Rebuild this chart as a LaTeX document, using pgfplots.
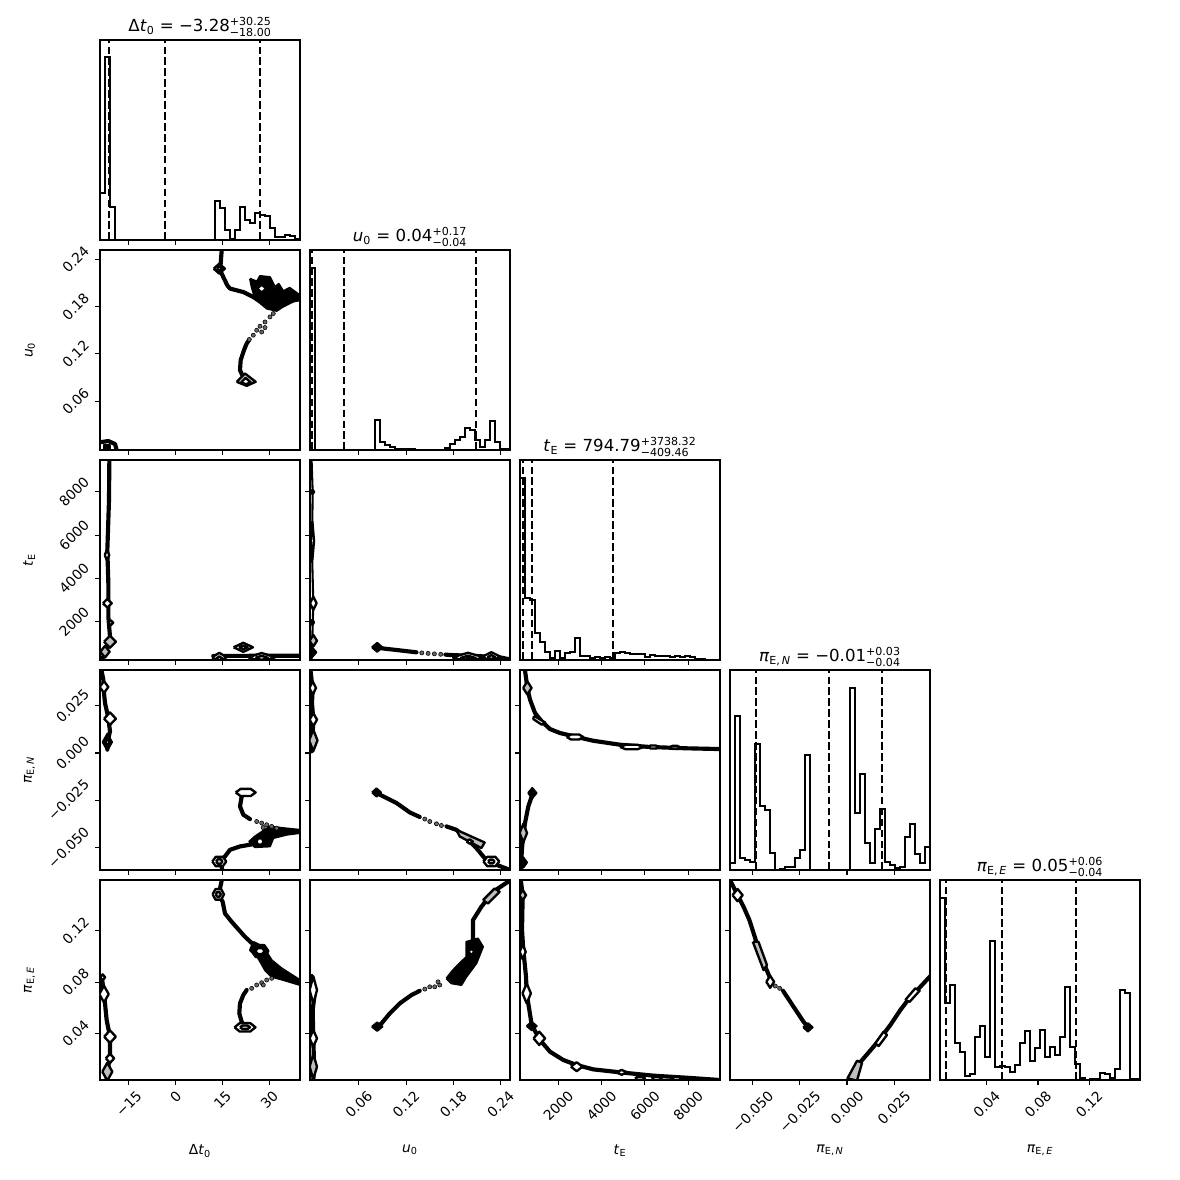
\documentclass[border=0pt]{standalone}
\usepackage{fontspec}
\setmainfont{DejaVu Sans}
\usepackage{amsmath}
\usepackage{graphicx}
\usepackage{pgfplots}
\pgfplotsset{compat=1.18}

\newcommand{\rl}[1]{\rotatebox{45}{#1}}
\newcommand{\err}[2]{$^{\text{#1}}_{\text{#2}}$}

\pgfplotsset{
  corner/.style={width=2in, height=2in, scale only axis, anchor=north west,
    axis line style={line width=0.8pt}, tick style={black, line width=0.8pt},
    tick align=outside, major tick length=3.5pt,
    xtick pos=left, ytick pos=left, scaled ticks=false,
    tick label style={font=\fontsize{10}{12}\selectfont},
    label style={font=\fontsize{10}{12}\selectfont},
    every axis x label/.style={at={(axis description cs:0.5,-0.3)}, anchor=north},
    every axis y label/.style={at={(axis description cs:-0.3,0.5)}, rotate=90, anchor=south},
    every axis title/.style={font=\fontsize{12}{14}\selectfont, at={(0.5,1)}, anchor=base, yshift=6pt},
    xticklabels={}, yticklabels={}},
  hist/.style={ymin=0, ymax=200, ytick=\empty},
  dtx/.style={xmin=-24.2, xmax=39.8, xtick={-15,0,15,30}},
  u0x/.style={xmin=-0.002, xmax=0.252, xtick={0.06,0.12,0.18,0.24}},
  tex/.style={xmin=230, xmax=9470, xtick={2000,4000,6000,8000}},
  pnx/.style={xmin=-0.062, xmax=0.044, xtick={-0.05,-0.025,0,0.025}},
  pex/.style={xmin=0.0036, xmax=0.1596, xtick={0.04,0.08,0.12}},
  u0y/.style={ymin=-0.002, ymax=0.252, ytick={0.06,0.12,0.18,0.24}},
  tey/.style={ymin=230, ymax=9470, ytick={2000,4000,6000,8000}},
  pny/.style={ymin=-0.062, ymax=0.044, ytick={-0.05,-0.025,0,0.025}},
  pey/.style={ymin=0.0036, ymax=0.1596, ytick={0.04,0.08,0.12}},
  dtxl/.style={xticklabels={\rl{−15},\rl{0},\rl{15},\rl{30}}, xlabel={Δ\textit{t}\textsubscript{0}}},
  u0xl/.style={xticklabels={\rl{0.06},\rl{0.12},\rl{0.18},\rl{0.24}}, xlabel={\textit{u}\textsubscript{0}}},
  texl/.style={xticklabels={\rl{2000},\rl{4000},\rl{6000},\rl{8000}}, xlabel={\textit{t}\textsubscript{E}}},
  pnxl/.style={xticklabels={\rl{−0.050},\rl{−0.025},\rl{0.000},\rl{0.025}}, xlabel={\textit{π}\textsubscript{E,\,\textit{N}}}},
  pexl/.style={xticklabels={\rl{0.04},\rl{0.08},\rl{0.12}}, xlabel={\textit{π}\textsubscript{E,\,\textit{E}}}},
  u0yl/.style={yticklabels={\rl{0.06},\rl{0.12},\rl{0.18},\rl{0.24}}, ylabel={\textit{u}\textsubscript{0}}},
  teyl/.style={yticklabels={\rl{2000},\rl{4000},\rl{6000},\rl{8000}}, ylabel={\textit{t}\textsubscript{E}}},
  pnyl/.style={yticklabels={\rl{−0.050},\rl{−0.025},\rl{0.000},\rl{0.025}}, ylabel={\textit{π}\textsubscript{E,\,\textit{N}}}},
  peyl/.style={yticklabels={\rl{0.04},\rl{0.08},\rl{0.12}}, ylabel={\textit{π}\textsubscript{E,\,\textit{E}}}},
  hs/.style={black, line width=1.2pt, const plot, line join=miter},
  ql/.style={black, line width=1.5pt, dash pattern=on 5.5pt off 2.4pt},
  cl/.style={black, line width=3pt, line join=round, line cap=round},
  tl/.style={black, line width=1.5pt, line join=round, line cap=round},
  lg/.style={draw=black, line width=1.7pt, fill=black!25, line join=round},
  lw/.style={draw=black, line width=1.7pt, fill=white, line join=round},
  lb/.style={draw=black, line width=1.4pt, fill=black, line join=round},
  gd/.style={only marks, mark=*, mark size=1.5pt, mark options={draw=none, fill=black!60}},
}

\begin{document}
\begin{tikzpicture}
\path[use as bounding box] (-1in,-11.4in) rectangle (10.8in,0.4in);

% ---------------- Row 0 ----------------
\begin{axis}[corner, at={(0in,0in)}, dtx, hist,
  title={Δ\textit{t}\textsubscript{0} = −3.28\err{+30.25}{−18.00}}]
\addplot[hs] coordinates {(-24.2,46.7)(-22.6,182.7)(-21.0,32.7)(-19.4,0)(-17.8,0)(-16.2,0)(-14.6,0)(-13.0,0)(-11.4,0)(-9.8,0)(-8.2,0)(-6.6,0)(-5.0,0)(-3.4,0)(-1.8,0)(-0.2,0)(1.4,0)(3.0,0)(4.6,0)(6.2,0)(7.8,0)(9.4,0)(11.0,0)(12.6,39)(14.2,31.7)(15.8,10)(17.4,0.7)(19.0,10)(20.6,32.7)(22.2,20)(23.8,16.7)(25.4,27.3)(27.0,25)(28.6,24)(30.2,11.7)(31.8,2.7)(33.4,2.7)(35.0,5)(36.6,4)(38.2,0.7)(39.8,0.7)};
\addplot[ql] coordinates {(-21.28,0)(-21.28,200)};
\addplot[ql] coordinates {(-3.28,0)(-3.28,200)};
\addplot[ql] coordinates {(26.97,0)(26.97,200)};
\end{axis}

% ---------------- Row 1 ----------------
\begin{axis}[corner, at={(0in,-2.1in)}, dtx, u0y, u0yl]
\addplot[cl] coordinates {(14.74,0.2560)(14.74,0.2515)(14.42,0.2346)(13.98,0.2283)(15.26,0.2177)(16.54,0.2071)(17.4,0.2030)(21.66,0.1986)(24.86,0.1923)(28.06,0.1839)(30.74,0.1796)(34.46,0.1818)(39.8,0.1923)};
\addplot[lb] coordinates {(23.8,0.2156)(26.0,0.2120)(27.0,0.2190)(30.2,0.2177)(31.8,0.2050)(33.0,0.2090)(34.46,0.1998)(36.5,0.2040)(39.8,0.1945)(39.8,0.1880)(36.6,0.1860)(32.34,0.1746)(29.14,0.1776)(25.4,0.1903)(24.34,0.2050)(23.8,0.2156)};
\addplot[lw] coordinates {(26.04,0.2030)(27.54,0.2080)(29.04,0.2030)(27.54,0.1980)(26.04,0.2030)};
\addplot[lw] coordinates {(12.18,0.2283)(13.98,0.2346)(15.78,0.2283)(13.98,0.2220)(12.18,0.2283)};
\addplot[lw] coordinates {(13.18,0.2283)(13.98,0.2313)(14.78,0.2283)(13.98,0.2253)(13.18,0.2283)};
\addplot[gd] coordinates {(31.26,0.1713)(30.2,0.1670)(28.6,0.1606)(27.0,0.1552)(28.6,0.1535)(25.94,0.1501)(27.54,0.1479)(24.86,0.1438)(23.58,0.1383)};
\addplot[cl] coordinates {(23.58,0.1383)(22.74,0.1332)(21.88,0.1248)(20.82,0.1121)(20.6,0.0994)(21.34,0.0931)(22.2,0.0870)};
\addplot[lg] coordinates {(19.54,0.0846)(22.2,0.0952)(25.62,0.0846)(22.74,0.0795)(19.54,0.0846)};
\addplot[lw] coordinates {(21.0,0.0840)(22.4,0.0895)(24.0,0.0840)(22.5,0.0815)(21.0,0.0840)};
\addplot[cl] coordinates {(-24.2,0.0078)(-21.54,0.0094)(-19.4,0.0056)(-18.86,-0.002)};
\addplot[lb] coordinates {(-23,-0.002)(-21,-0.002)(-21,0.0045)(-23,0.0045)(-23,-0.002)};
\end{axis}

\begin{axis}[corner, at={(2.1in,-2.1in)}, u0x, hist,
  title={\textit{u}\textsubscript{0} = 0.04\err{+0.17}{−0.04}}]
\addplot[hs] coordinates {(-0.002,181.7)(0.00435,0)(0.0107,0)(0.01705,0)(0.0234,0)(0.02975,0)(0.0361,0)(0.04245,0)(0.0488,0)(0.05515,0)(0.0615,0)(0.06785,0)(0.0742,0)(0.08055,30)(0.0869,8.3)(0.09325,5)(0.0996,3.3)(0.10595,1)(0.1123,1)(0.11865,0.7)(0.125,0.7)(0.13135,0)(0.1377,0)(0.14405,0)(0.1504,0)(0.15675,0)(0.1631,0)(0.16945,1.7)(0.1758,6)(0.18215,10)(0.1885,13.3)(0.19485,21.7)(0.2012,20)(0.20755,10)(0.2139,3.3)(0.22025,10)(0.2266,29)(0.23295,8.3)(0.2393,0.7)(0.24565,0.7)(0.252,0.7)};
\addplot[ql] coordinates {(0.0006,0)(0.0006,200)};
\addplot[ql] coordinates {(0.0406,0)(0.0406,200)};
\addplot[ql] coordinates {(0.2092,0)(0.2092,200)};
\end{axis}

% ---------------- Row 2 ----------------
\begin{axis}[corner, at={(0in,-4.2in)}, dtx, tey, teyl]
\addplot[cl] coordinates {(-21.21,9470)(-21.21,9387)(-21.32,7618)(-21.85,5310)(-21.53,3772)(-21.53,2230)(-21.0,1307)(-22.6,540)(-23.67,231)};
\addplot[lw] coordinates {(-22.66,5079)(-21.96,5339)(-21.26,5079)(-21.96,4819)(-22.66,5079)};
\addplot[lw] coordinates {(-23.25,2849)(-21.85,3049)(-20.45,2849)(-21.85,2649)(-23.25,2849)};
\addplot[lw] coordinates {(-21.58,1953)(-20.78,2068)(-19.98,1953)(-20.78,1838)(-21.58,1953)};
\addplot[lg] coordinates {(-22.9,1076)(-21.0,1356)(-19.1,1076)(-21.0,796)(-22.9,1076)};
\addplot[lg] coordinates {(-24.1,615)(-22.6,885)(-21.1,615)(-22.6,345)(-24.1,615)};
\addplot[cl] coordinates {(12.06,420)(20,420)(30,430)(39.8,430)};
\addplot[lw] coordinates {(18.56,817)(21.66,1027)(24.76,817)(21.66,607)(18.56,817)};
\addplot[lg] coordinates {(20.26,817)(21.66,907)(23.06,817)(21.66,727)(20.26,817)};
\addplot[lw] coordinates {(11.68,355)(13.98,565)(16.28,355)(13.98,145)(11.68,355)};
\addplot[lg] coordinates {(12.98,300)(13.98,400)(14.98,300)(13.98,200)(12.98,300)};
\addplot[lw] coordinates {(23.24,355)(27.54,555)(31.84,355)(27.54,155)(23.24,355)};
\addplot[lg] coordinates {(25.54,330)(27.54,430)(29.54,330)(27.54,230)(25.54,330)};
\end{axis}

\begin{axis}[corner, at={(2.1in,-4.2in)}, u0x, tey]
\addplot[tl] coordinates {(0.0001,9470)(0.0001,9387)(0.0014,8001)(0.0005,5310)(0.0022,2849)(0.001,1307)(0.0001,231)};
\addplot[lw] coordinates {(-0.0015,8001)(0.001,8093)(0.0035,8001)(0.001,7909)(-0.0015,8001)};
\addplot[lw] coordinates {(-0.0011,5740)(0.001,6617)(0.0031,5740)(0.001,4863)(-0.0011,5740)};
\addplot[lw] coordinates {(-0.002,2849)(0.0022,3157)(0.0064,2849)(0.0022,2541)(-0.002,2849)};
\addplot[lw] coordinates {(-0.001,1971)(0.001,2086)(0.003,1971)(0.001,1856)(-0.001,1971)};
\addplot[lg] coordinates {(-0.0025,1122)(0.0022,1390)(0.0069,1122)(0.0022,854)(-0.0025,1122)};
\addplot[lb] coordinates {(-0.0033,586)(0.0014,780)(0.0061,586)(0.0014,392)(-0.0033,586)};
\addplot[cl] coordinates {(0.0833,817)(0.0889,771)(0.1079,693)(0.1332,586)};
\addplot[gd] coordinates {(0.140,560)(0.148,535)(0.156,515)(0.164,495)};
\addplot[cl] coordinates {(0.170,480)(0.1755,462)(0.2093,416)(0.2388,355)(0.2515,263)};
\addplot[lb] coordinates {(0.0766,817)(0.0833,1025)(0.0900,817)(0.0833,609)(0.0766,817)};
\addplot[lg] coordinates {(0.0803,817)(0.0833,907)(0.0863,817)(0.0833,727)(0.0803,817)};
\addplot[lw] coordinates {(0.1787,355)(0.1987,563)(0.2187,355)(0.1987,147)(0.1787,355)};
\addplot[lw] coordinates {(0.1887,320)(0.1987,430)(0.2087,320)(0.1987,210)(0.1887,320)};
\addplot[lb] coordinates {(0.1957,300)(0.1987,350)(0.2017,300)(0.1987,250)(0.1957,300)};
\addplot[lw] coordinates {(0.2167,383)(0.2283,591)(0.2399,383)(0.2283,175)(0.2167,383)};
\addplot[lg] coordinates {(0.2233,360)(0.2283,460)(0.2333,360)(0.2283,260)(0.2233,360)};
\end{axis}

\begin{axis}[corner, at={(4.2in,-4.2in)}, tex, hist,
  title={\textit{t}\textsubscript{E} = 794.79\err{+3738.32}{−409.46}}]
\addplot[hs] coordinates {(230,181.7)(461,61.7)(692,60)(923,26.7)(1154,17.7)(1385,8.3)(1616,1.7)(1847,9)(2078,1.7)(2309,7.3)(2540,8.3)(2771,21.7)(3002,4.3)(3233,4.3)(3464,1.7)(3695,2.7)(3926,1.7)(4157,3.3)(4388,1.7)(4619,6.7)(4850,7.7)(5081,6.7)(5312,6)(5543,6)(5774,6)(6005,3.3)(6236,4.7)(6467,4.3)(6698,4.3)(6929,4.3)(7160,3.3)(7391,4.3)(7622,3.3)(7853,4.3)(8084,3.3)(8315,0.7)(8546,0.7)(8777,0)(9008,0)(9239,0)(9470,0)};
\addplot[ql] coordinates {(385.33,0)(385.33,200)};
\addplot[ql] coordinates {(794.79,0)(794.79,200)};
\addplot[ql] coordinates {(4533.11,0)(4533.11,200)};
\end{axis}

% ---------------- Row 3 ----------------
\begin{axis}[corner, at={(0in,-6.3in)}, dtx, pny, pnyl]
\addplot[cl] coordinates {(-23.67,0.0450)(-23.67,0.0433)(-23.13,0.0389)(-22.92,0.0318)(-22.6,0.0265)(-21.53,0.0186)(-21.0,0.0115)(-21.85,0.0053)(-21.85,0.0018)};
\addplot[lw] coordinates {(-24.32,0.0350)(-22.92,0.0381)(-21.52,0.0350)(-22.92,0.0319)(-24.32,0.0350)};
\addplot[lw] coordinates {(-22.9,0.0182)(-21.0,0.0215)(-19.1,0.0182)(-21.0,0.0149)(-22.9,0.0182)};
\addplot[lb] coordinates {(-23.35,0.0058)(-21.85,0.0102)(-20.35,0.0058)(-21.85,0.0014)(-23.35,0.0058)};
\addplot[lw] coordinates {(-22.45,0.0058)(-21.85,0.0080)(-21.25,0.0058)(-21.85,0.0036)(-22.45,0.0058)};
\addplot[cl] coordinates {(22.42,-0.0209)(21.14,-0.0230)(20.6,-0.0283)(21.66,-0.0327)(23.8,-0.0350)};
\addplot[lw] coordinates {(19.22,-0.0209)(20.8,-0.0190)(24.0,-0.0190)(25.62,-0.0209)(24.0,-0.0228)(20.8,-0.0228)(19.22,-0.0209)};
\addplot[gd] coordinates {(25.94,-0.0363)(27.54,-0.0371)(29.14,-0.0380)(30.74,-0.0389)(32.34,-0.0398)(28.0,-0.0395)};
\addplot[lb] coordinates {(27.0,-0.0424)(30.2,-0.0389)(34.46,-0.0398)(39.8,-0.0407)(39.8,-0.0424)(35.54,-0.0433)(31.26,-0.0451)(30.2,-0.0495)(25.4,-0.0499)(23.58,-0.0469)(25.4,-0.0442)(27.0,-0.0424)};
\addplot[lw] coordinates {(25.8,-0.0469)(26.4,-0.0453)(27.6,-0.0453)(28.2,-0.0469)(27.6,-0.0485)(26.4,-0.0485)(25.8,-0.0469)};
\addplot[cl] coordinates {(24.86,-0.0483)(20.6,-0.0495)(17.4,-0.0513)(15.8,-0.0548)(13.98,-0.0575)(14.74,-0.0601)(14.94,-0.0625)};
\addplot[lw] coordinates {(11.74,-0.0575)(12.86,-0.0550)(15.1,-0.0550)(16.22,-0.0575)(15.1,-0.0600)(12.86,-0.0600)(11.74,-0.0575)};
\addplot[lg] coordinates {(12.98,-0.0575)(13.48,-0.0563)(14.48,-0.0563)(14.98,-0.0575)(14.48,-0.0587)(13.48,-0.0587)(12.98,-0.0575)};
\end{axis}

\begin{axis}[corner, at={(2.1in,-6.3in)}, u0x, pny]
\addplot[cl] coordinates {(-0.0012,0.0450)(-0.0012,0.0433)(0.0014,0.0336)(0.0005,0.0265)(0.0022,0.0177)(0.0014,0.0106)(0.0001,0.0009)};
\addplot[lw] coordinates {(-0.0028,0.0345)(0.0014,0.0380)(0.0056,0.0345)(0.0014,0.0310)(-0.0028,0.0345)};
\addplot[lw] coordinates {(-0.0025,0.0177)(0.0022,0.0212)(0.0069,0.0177)(0.0022,0.0142)(-0.0025,0.0177)};
\addplot[lg] coordinates {(-0.0031,0.0067)(0.0022,0.0124)(0.0075,0.0067)(0.0022,0.0010)(-0.0031,0.0067)};
\addplot[cl] coordinates {(0.0825,-0.0209)(0.0867,-0.0221)(0.1079,-0.0265)(0.1248,-0.0315)(0.1374,-0.0339)};
\addplot[gd] coordinates {(0.1438,-0.0350)(0.1501,-0.0363)(0.1586,-0.0375)(0.1649,-0.0384)};
\addplot[cl] coordinates {(0.1713,-0.0389)(0.1839,-0.0407)(0.1966,-0.0451)(0.2093,-0.0504)(0.2198,-0.0557)(0.2346,-0.0592)(0.2515,-0.0619)(0.253,-0.0625)};
\addplot[lb] coordinates {(0.0768,-0.0209)(0.0825,-0.0187)(0.0882,-0.0209)(0.0825,-0.0231)(0.0768,-0.0209)};
\addplot[lg] coordinates {(0.1839,-0.0407)(0.2198,-0.0474)(0.2156,-0.0504)(0.1881,-0.0442)(0.1839,-0.0407)};
\addplot[lw] coordinates {(0.1968,-0.0469)(0.2008,-0.0457)(0.2048,-0.0469)(0.2008,-0.0481)(0.1968,-0.0469)};
\addplot[lw] coordinates {(0.2182,-0.0575)(0.2232,-0.0550)(0.2334,-0.0550)(0.2384,-0.0575)(0.2334,-0.0600)(0.2232,-0.0600)(0.2182,-0.0575)};
\addplot[lg] coordinates {(0.2243,-0.0575)(0.2263,-0.0565)(0.2303,-0.0565)(0.2323,-0.0575)(0.2303,-0.0585)(0.2263,-0.0585)(0.2243,-0.0575)};
\end{axis}

\begin{axis}[corner, at={(4.2in,-6.3in)}, tex, pny]
\addplot[cl] coordinates {(462,0.0450)(462,0.0438)(569,0.0345)(693,0.0283)(924,0.0212)(1233,0.0168)(1616,0.0127)(2078,0.0106)(2849,0.0085)(3615,0.0065)(4848,0.0044)(6233,0.0032)(7928,0.0025)(9470,0.0021)};
\addplot[lg] coordinates {(375,0.0345)(569,0.0380)(763,0.0345)(569,0.0310)(375,0.0345)};
\addplot[lw] coordinates {(877,0.0197)(1385,0.0162)(1233,0.0150)(845,0.0180)(877,0.0197)};
\addplot[lw] coordinates {(2387,0.0085)(2579,0.0098)(2962,0.0098)(3153,0.0085)(2962,0.0072)(2579,0.0072)(2387,0.0085)};
\addplot[lw] coordinates {(4848,0.0032)(5118,0.0044)(5658,0.0044)(5928,0.0032)(5658,0.0020)(5118,0.0020)(4848,0.0032)};
\addplot[lw] coordinates {(6154,0.0032)(6270,0.0040)(6500,0.0040)(6616,0.0032)(6500,0.0024)(6270,0.0024)(6154,0.0032)};
\addplot[lw] coordinates {(7156,0.0030)(7272,0.0038)(7502,0.0038)(7618,0.0030)(7502,0.0022)(7272,0.0022)(7156,0.0030)};
\addplot[cl] coordinates {(799,-0.0212)(771,-0.0230)(614,-0.0283)(462,-0.0371)(356,-0.0460)(309,-0.0530)(277,-0.0625)};
\addplot[lb] coordinates {(605,-0.0212)(799,-0.0185)(993,-0.0212)(799,-0.0239)(605,-0.0212)};
\addplot[lg] coordinates {(719,-0.0212)(799,-0.0201)(879,-0.0212)(799,-0.0223)(719,-0.0212)};
\addplot[lg] coordinates {(214,-0.0424)(385,-0.0375)(556,-0.0424)(385,-0.0473)(214,-0.0424)};
\addplot[lb] coordinates {(214,-0.0580)(385,-0.0553)(556,-0.0580)(385,-0.0607)(214,-0.0580)};
\end{axis}

\begin{axis}[corner, at={(6.3in,-6.3in)}, pnx, hist,
  title={\textit{π}\textsubscript{E,\,\textit{N}} = −0.01\err{+0.03}{−0.04}}]
\addplot[hs] coordinates {(-0.062,7.3)(-0.05935,154)(-0.0567,11.7)(-0.05405,10)(-0.0514,8.3)(-0.04875,126)(-0.0461,64.3)(-0.04345,60)(-0.0408,16.7)(-0.03815,0)(-0.0355,1)(-0.03285,3.3)(-0.0302,3.3)(-0.02755,11.7)(-0.0249,20)(-0.02225,115)(-0.0196,0)(-0.01695,0)(-0.0143,0)(-0.01165,0)(-0.009,0)(-0.00635,0)(-0.0037,0)(-0.00105,0)(0.0016,181.7)(0.00425,57.3)(0.0069,95.7)(0.00955,26.7)(0.0122,6.7)(0.01485,40.7)(0.0175,60.7)(0.02015,8.3)(0.0228,5)(0.02545,2.3)(0.0281,3.3)(0.03075,33.3)(0.0334,46)(0.03605,16)(0.0387,7.3)(0.04135,22.7)(0.044,22.7)};
\addplot[ql] coordinates {(-0.0481,0)(-0.0481,200)};
\addplot[ql] coordinates {(-0.0094,0)(-0.0094,200)};
\addplot[ql] coordinates {(0.0187,0)(0.0187,200)};
\end{axis}

% ---------------- Row 4 ----------------
\begin{axis}[corner, at={(0in,-8.4in)}, dtx, pey, dtxl, peyl]
\addplot[cl] coordinates {(14.74,0.1610)(14.74,0.1590)(14.2,0.1530)(13.66,0.1484)(15.06,0.1426)(15.8,0.1335)(17.94,0.1270)(22.2,0.1153)(25.4,0.1081)};
\addplot[lw] coordinates {(11.84,0.1484)(12.75,0.1525)(14.57,0.1525)(15.48,0.1484)(14.57,0.1443)(12.75,0.1443)(11.84,0.1484)};
\addplot[lg] coordinates {(12.86,0.1484)(13.26,0.1502)(14.06,0.1502)(14.46,0.1484)(14.06,0.1466)(13.26,0.1466)(12.86,0.1484)};
\addplot[lb] coordinates {(24.86,0.1114)(28.06,0.1075)(30.74,0.0971)(33.94,0.0907)(39.8,0.0816)(39.8,0.0777)(34.46,0.0816)(30.74,0.0841)(28.6,0.0893)(26.46,0.0985)(23.8,0.1049)(24.86,0.1114)};
\addplot[lb] coordinates {(24.22,0.1042)(25.61,0.1090)(28.39,0.1090)(29.78,0.1042)(28.39,0.0994)(25.61,0.0994)(24.22,0.1042)};
\addplot[lw] coordinates {(25.5,0.1042)(26.3,0.1065)(27.7,0.1065)(28.5,0.1042)(27.7,0.1019)(26.3,0.1019)(25.5,0.1042)};
\addplot[gd] coordinates {(30.74,0.0829)(29.14,0.0816)(27.54,0.0795)(25.94,0.0777)(24.34,0.0751)(28.06,0.0777)};
\addplot[cl] coordinates {(22.74,0.0738)(21.66,0.0699)(20.6,0.0634)(20.38,0.0556)(21.14,0.0490)(22.2,0.0447)};
\addplot[lw] coordinates {(18.84,0.0447)(20.52,0.0480)(23.88,0.0480)(25.56,0.0447)(23.88,0.0414)(20.52,0.0414)(18.84,0.0447)};
\addplot[lg] coordinates {(20.6,0.0447)(21.4,0.0461)(23.0,0.0461)(23.8,0.0447)(23.0,0.0433)(21.4,0.0433)(20.6,0.0447)};
\addplot[cl] coordinates {(-23.67,0.0847)(-23.35,0.0790)(-22.6,0.0634)(-22.07,0.0504)(-21.0,0.0374)(-21.0,0.0270)(-21.0,0.0205)(-21.86,0.0114)(-22.07,0.0030)};
\addplot[lw] coordinates {(-24.15,0.0837)(-23.35,0.0860)(-22.55,0.0837)(-23.35,0.0814)(-24.15,0.0837)};
\addplot[lw] coordinates {(-24.42,0.0706)(-22.92,0.0771)(-21.42,0.0706)(-22.92,0.0641)(-24.42,0.0706)};
\addplot[lw] coordinates {(-22.87,0.0374)(-21.0,0.0423)(-19.13,0.0374)(-21.0,0.0325)(-22.87,0.0374)};
\addplot[lw] coordinates {(-22.33,0.0205)(-21.0,0.0241)(-19.67,0.0205)(-21.0,0.0169)(-22.33,0.0205)};
\addplot[lg] coordinates {(-23.46,0.0101)(-21.86,0.0171)(-20.26,0.0101)(-21.86,0.0031)(-23.46,0.0101)};
\end{axis}

\begin{axis}[corner, at={(2.1in,-8.4in)}, u0x, pey, u0xl]
\addplot[cl] coordinates {(0.0833,0.0452)(0.0889,0.0478)(0.0994,0.0556)(0.1121,0.0634)(0.1269,0.0699)(0.1374,0.0732)};
\addplot[lb] coordinates {(0.0766,0.0452)(0.0833,0.0485)(0.0900,0.0452)(0.0833,0.0419)(0.0766,0.0452)};
\addplot[gd] coordinates {(0.1438,0.0745)(0.1501,0.0763)(0.1564,0.0763)(0.1628,0.0777)(0.1606,0.0802)};
\addplot[lb] coordinates {(0.1713,0.0829)(0.1796,0.0893)(0.1881,0.0946)(0.1966,0.0997)(0.1966,0.1114)(0.2113,0.1140)(0.2177,0.1075)(0.2093,0.0946)(0.1966,0.0841)(0.1903,0.0777)(0.1776,0.0790)(0.1713,0.0829)};
\addplot[lw] coordinates {(0.1990,0.1036)(0.2030,0.1061)(0.2070,0.1036)(0.2030,0.1011)(0.1990,0.1036)};
\addplot[cl] coordinates {(0.2050,0.1114)(0.2050,0.1153)(0.2050,0.1283)(0.2156,0.1387)(0.2240,0.1452)(0.2367,0.1530)(0.2515,0.1590)(0.253,0.1600)};
\addplot[lg] coordinates {(0.2177,0.1439)(0.2325,0.1530)(0.2388,0.1504)(0.2240,0.1413)(0.2177,0.1439)};
\addplot[cl] coordinates {(0.0001,0.0847)(0.0043,0.0724)(0.0014,0.0582)(0.0022,0.0361)(0.0031,0.0166)(0.0022,0.0030)};
\addplot[lw] coordinates {(-0.0025,0.0738)(0.0022,0.0845)(0.0069,0.0738)(0.0022,0.0631)(-0.0025,0.0738)};
\addplot[lw] coordinates {(-0.0025,0.0361)(0.0022,0.0426)(0.0069,0.0361)(0.0022,0.0296)(-0.0025,0.0361)};
\addplot[lg] coordinates {(-0.0025,0.0140)(0.0022,0.0237)(0.0069,0.0140)(0.0022,0.0043)(-0.0025,0.0140)};
\end{axis}

\begin{axis}[corner, at={(4.2in,-8.4in)}, tex, pey, texl]
\addplot[cl] coordinates {(277,0.1610)(277,0.1582)(354,0.1478)(323,0.1205)(385,0.1049)(508,0.0841)(539,0.0712)(662,0.0582)(771,0.0465)(1154,0.0348)(1616,0.0257)(2230,0.0192)(2849,0.0153)(3615,0.0119)(4848,0.0096)(6385,0.0070)(7928,0.0054)(9470,0.0036)};
\addplot[lg] coordinates {(200,0.1478)(354,0.1519)(508,0.1478)(354,0.1437)(200,0.1478)};
\addplot[lw] coordinates {(215,0.1036)(354,0.1094)(493,0.1036)(354,0.0978)(215,0.1036)};
\addplot[lw] coordinates {(345,0.0712)(539,0.0790)(733,0.0712)(539,0.0634)(345,0.0712)};
\addplot[lb] coordinates {(540,0.0457)(771,0.0490)(1002,0.0457)(771,0.0424)(540,0.0457)};
\addplot[lw] coordinates {(854,0.0361)(1122,0.0413)(1390,0.0361)(1122,0.0309)(854,0.0361)};
\addplot[lw] coordinates {(2581,0.0140)(2849,0.0175)(3117,0.0140)(2849,0.0105)(2581,0.0140)};
\addplot[lw] coordinates {(4681,0.0096)(4926,0.0115)(5171,0.0096)(4926,0.0077)(4681,0.0096)};
\addplot[lw] coordinates {(5541,0.0049)(5656,0.0061)(5888,0.0061)(6003,0.0049)(5888,0.0037)(5656,0.0037)(5541,0.0049)};
\addplot[lw] coordinates {(6311,0.0049)(6426,0.0061)(6658,0.0061)(6773,0.0049)(6658,0.0037)(6426,0.0037)(6311,0.0049)};
\addplot[lw] coordinates {(7234,0.0049)(7349,0.0061)(7581,0.0061)(7696,0.0049)(7581,0.0037)(7349,0.0037)(7234,0.0049)};
\end{axis}

\begin{axis}[corner, at={(6.3in,-8.4in)}, pnx, pey, pnxl]
\addplot[cl] coordinates {(-0.0620,0.1610)(-0.0615,0.1582)(-0.0580,0.1478)(-0.0548,0.1387)(-0.0517,0.1283)(-0.0486,0.1140)(-0.0469,0.1049)(-0.0433,0.0919)(-0.0403,0.0816)};
\addplot[gd] coordinates {(-0.0380,0.0769)(-0.0357,0.0751)};
\addplot[cl] coordinates {(-0.0339,0.0732)(-0.0283,0.0607)(-0.0230,0.0490)(-0.0207,0.0447)};
\addplot[lw] coordinates {(-0.0607,0.1478)(-0.0580,0.1526)(-0.0553,0.1478)(-0.0580,0.1430)(-0.0607,0.1478)};
\addplot[lg] coordinates {(-0.0499,0.1114)(-0.0469,0.1114)(-0.0424,0.0932)(-0.0442,0.0893)(-0.0499,0.1114)};
\addplot[lw] coordinates {(-0.0428,0.0802)(-0.0407,0.0849)(-0.0386,0.0802)(-0.0407,0.0755)(-0.0428,0.0802)};
\addplot[lb] coordinates {(-0.0232,0.0447)(-0.0207,0.0480)(-0.0182,0.0447)(-0.0207,0.0414)(-0.0232,0.0447)};
\addplot[cl] coordinates {(0.0005,0.0030)(0.0005,0.0036)(0.0035,0.0114)(0.0088,0.0205)(0.0141,0.0296)(0.0177,0.0361)(0.0230,0.0465)(0.0283,0.0582)(0.0336,0.0685)(0.0389,0.0763)(0.0442,0.0847)};
\addplot[lg] coordinates {(0.0003,0.0049)(0.0053,0.0186)(0.0080,0.0171)(0.0053,0.0031)(0.0003,0.0049)};
\addplot[lw] coordinates {(0.0150,0.0322)(0.0194,0.0413)(0.0212,0.0387)(0.0168,0.0301)(0.0150,0.0322)};
\addplot[lw] coordinates {(0.0309,0.0660)(0.0362,0.0751)(0.0385,0.0732)(0.0332,0.0646)(0.0309,0.0660)};
\end{axis}

\begin{axis}[corner, at={(8.4in,-8.4in)}, pex, hist, pexl,
  title={\textit{π}\textsubscript{E,\,\textit{E}} = 0.05\err{+0.06}{−0.04}}]
\addplot[hs] coordinates {(0.0036,181.7)(0.0075,76.7)(0.0114,95)(0.0153,37.3)(0.0192,27.7)(0.0231,4.3)(0.027,5.7)(0.0309,42.7)(0.0348,54)(0.0387,23.3)(0.0426,139)(0.0465,13.3)(0.0504,14)(0.0543,12.7)(0.0582,7.7)(0.0621,15)(0.066,37.3)(0.0699,49)(0.0738,19.3)(0.0777,31.7)(0.0816,50)(0.0855,22.7)(0.0894,33.3)(0.0933,25)(0.0972,42.7)(0.1011,92.7)(0.105,32.7)(0.1089,15.7)(0.1128,1.7)(0.1167,0)(0.1206,0.7)(0.1245,0.7)(0.1284,6.7)(0.1323,5.7)(0.1362,1.7)(0.1401,10.7)(0.144,90)(0.1479,87.3)(0.1518,1)(0.1557,0.7)(0.1596,0.7)};
\addplot[ql] coordinates {(0.0081,0)(0.0081,200)};
\addplot[ql] coordinates {(0.0517,0)(0.0517,200)};
\addplot[ql] coordinates {(0.1094,0)(0.1094,200)};
\end{axis}

\end{tikzpicture}
\end{document}
